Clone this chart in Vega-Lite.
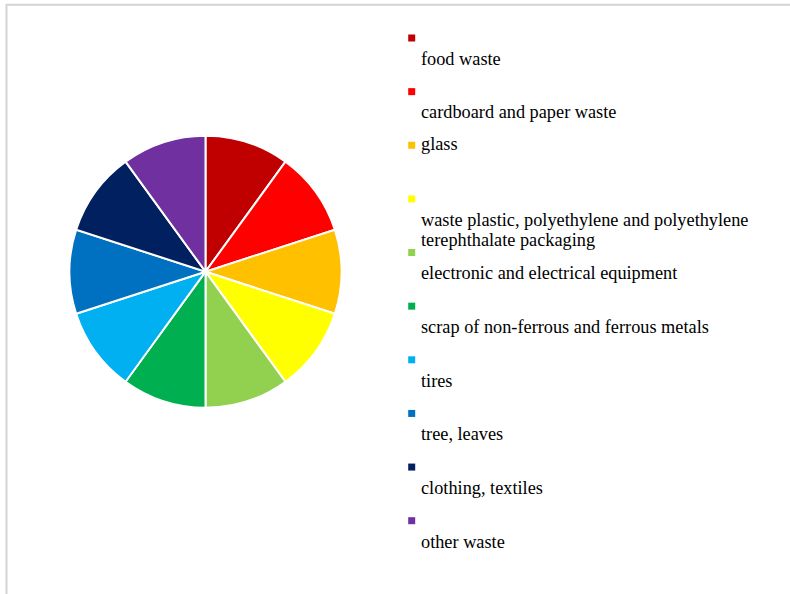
{
  "$schema": "https://vega.github.io/schema/vega-lite/v6.json",
  "width": 793.5,
  "height": 599.2,
  "autosize": {"type": "none"},
  "padding": {"left": 6.5, "top": 4.8, "right": -10, "bottom": -10},
  "background": "white",
  "view": {"stroke": "#d4d4d4", "strokeWidth": 2},
  "config": {
    "view": {"stroke": "#d4d4d4", "strokeWidth": 2}
  },
  "data": {
    "values": [
      {"rank": 1, "category": "food waste", "share": 10},
      {"rank": 2, "category": "cardboard and paper waste", "share": 10},
      {"rank": 3, "category": "glass", "share": 10},
      {"rank": 4, "category": "waste plastic, polyethylene and polyethylene\nterephthalate packaging", "share": 10},
      {"rank": 5, "category": "electronic and electrical equipment", "share": 10},
      {"rank": 6, "category": "scrap of non-ferrous and ferrous metals", "share": 10},
      {"rank": 7, "category": "tires", "share": 10},
      {"rank": 8, "category": "tree, leaves", "share": 10},
      {"rank": 9, "category": "clothing, textiles", "share": 10},
      {"rank": 10, "category": "other waste", "share": 10}
    ]
  },
  "encoding": {
    "color": {
      "field": "category",
      "type": "nominal",
      "legend": null,
      "scale": {
        "domain": [
          "food waste",
          "cardboard and paper waste",
          "glass",
          "waste plastic, polyethylene and polyethylene\nterephthalate packaging",
          "electronic and electrical equipment",
          "scrap of non-ferrous and ferrous metals",
          "tires",
          "tree, leaves",
          "clothing, textiles",
          "other waste"
        ],
        "range": ["#C00000", "#FF0000", "#FFC000", "#FFFF00", "#92D050", "#00B050", "#00B0F0", "#0070C0", "#002060", "#7030A0"]
      }
    }
  },
  "layer": [
    {
      "mark": {
        "type": "arc",
        "x": 199,
        "y": 266.9,
        "outerRadius": 136,
        "stroke": "white",
        "strokeWidth": 2
      },
      "encoding": {
        "theta": {"field": "share", "type": "quantitative", "stack": true},
        "order": {"field": "rank", "type": "quantitative"}
      }
    },
    {
      "mark": {"type": "square", "size": 49, "x": 405.2, "opacity": 1, "filled": true},
      "encoding": {
        "y": {
          "field": "rank",
          "type": "quantitative",
          "axis": null,
          "scale": {"domain": [1, 10], "range": [33.2, 515.9]}
        }
      }
    },
    {
      "transform": [{"filter": "datum.rank != 3"}],
      "mark": {
        "type": "text",
        "x": 414.5,
        "dy": 26.8,
        "align": "left",
        "baseline": "alphabetic",
        "font": "Liberation Serif",
        "fontSize": 18.3,
        "lineHeight": 20.5,
        "lineBreak": "\n",
        "color": "#000000"
      },
      "encoding": {
        "y": {"field": "rank", "type": "quantitative"},
        "text": {"field": "category"},
        "color": {"value": "#000000"}
      }
    },
    {
      "transform": [{"filter": "datum.rank == 3"}],
      "mark": {
        "type": "text",
        "x": 414.5,
        "dy": 5,
        "align": "left",
        "baseline": "alphabetic",
        "font": "Liberation Serif",
        "fontSize": 18.3,
        "color": "#000000"
      },
      "encoding": {
        "y": {"field": "rank", "type": "quantitative"},
        "text": {"field": "category"},
        "color": {"value": "#000000"}
      }
    }
  ]
}
